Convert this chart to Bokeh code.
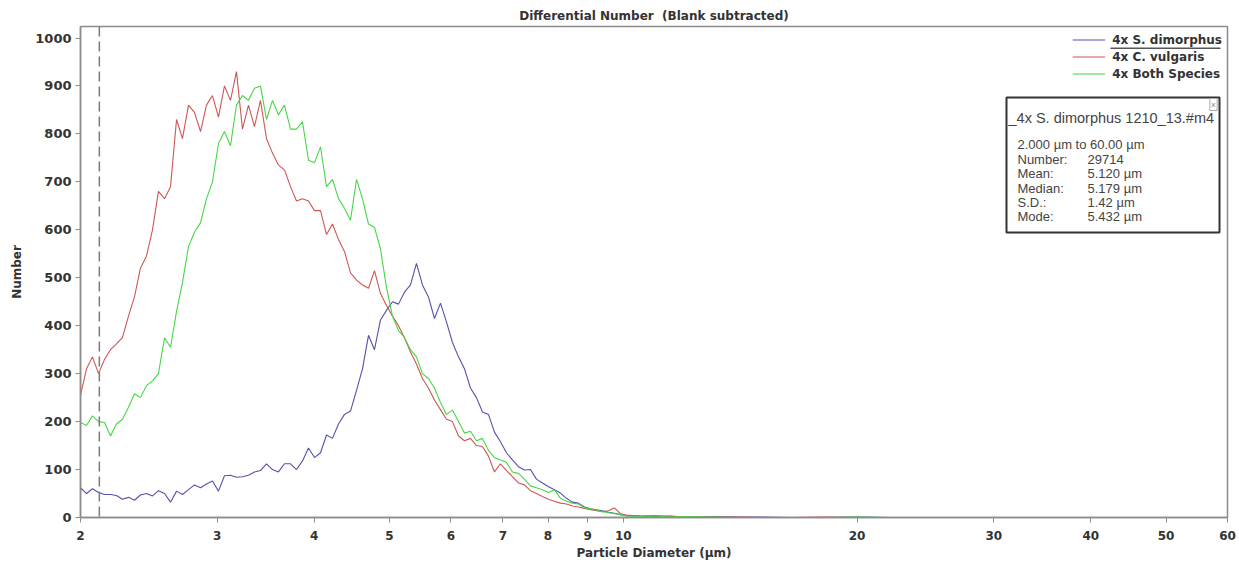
from bokeh.plotting import figure
from bokeh.models import Range1d, FixedTicker, Span, Label, BoxAnnotation, Legend, LegendItem, BasicTickFormatter
from bokeh.embed import file_html
from bokeh.resources import INLINE

# ---------------- data ----------------
diameter = [
    2.000, 2.036, 2.072, 2.110, 2.148, 2.186, 2.225, 2.265, 2.306, 2.347,
    2.389, 2.432, 2.476, 2.520, 2.566, 2.612, 2.659, 2.706, 2.755, 2.804,
    2.855, 2.906, 2.958, 3.011, 3.065, 3.120, 3.176, 3.233, 3.291, 3.350,
    3.410, 3.472, 3.534, 3.597, 3.662, 3.728, 3.795, 3.863, 3.932, 4.003,
    4.075, 4.148, 4.222, 4.298, 4.375, 4.454, 4.534, 4.615, 4.698, 4.782,
    4.868, 4.955, 5.044, 5.135, 5.227, 5.321, 5.416, 5.513, 5.612, 5.713,
    5.816, 5.920, 6.026, 6.135, 6.245, 6.357, 6.471, 6.587, 6.705, 6.826,
    6.948, 7.073, 7.200, 7.329, 7.460, 7.594, 7.731, 7.869, 8.011, 8.155,
    8.301, 8.450, 8.602, 8.756, 8.913, 9.073, 9.236, 9.402, 9.570, 9.742,
    9.917, 10.095,
    10.5, 11.0, 11.5, 12.0, 13.0, 14.0, 15.0, 16.5, 18.0, 20.0,
    22.0, 25.0, 30.0, 40.0, 50.0, 60.0,
]

s_dimorphus = [
    62, 50, 60, 52, 48, 48, 46, 38, 42, 36,
    47, 50, 45, 56, 50, 32, 55, 48, 58, 68,
    62, 70, 76, 55, 87, 88, 84, 85, 88, 95,
    98, 112, 100, 95, 112, 112, 100, 118, 145, 125,
    135, 172, 165, 195, 215, 222, 265, 310, 380, 350,
    412, 432, 450, 445, 470, 485, 530, 485, 460, 415,
    447, 408, 365, 335, 310, 270, 250, 220, 215, 178,
    158, 135, 120, 106, 99, 100, 80, 72, 64, 58,
    51, 40, 32, 30, 22, 18, 16, 14, 11, 9,
    6, 4,
    3, 2, 3, 1, 2, 1, 1, 0, 0, 1,
    0, 0, 0, 0, 0, 0,
]

c_vulgaris = [
    255, 310, 335, 300, 330, 350, 362, 375, 420, 460,
    520, 545, 600, 680, 665, 690, 830, 790, 860, 845,
    805, 860, 880, 835, 900, 870, 930, 810, 860, 815,
    870, 790, 760, 735, 725, 690, 660, 665, 660, 640,
    640, 590, 612, 580, 555, 510, 495, 485, 478, 515,
    467, 442, 420, 400, 375, 345, 320, 290, 270, 245,
    225, 205, 200, 170, 160, 165, 150, 148, 128, 95,
    112, 98, 85, 72, 68, 56, 50, 44, 38, 34,
    30, 28, 24, 22, 19, 16, 14, 12, 14, 20,
    8, 5,
    3, 4, 2, 2, 1, 1, 0, 0, 1, 0,
    0, 0, 0, 0, 0, 0,
]

both_species = [
    198, 192, 212, 200, 198, 170, 195, 205, 230, 258,
    250, 275, 285, 300, 375, 355, 430, 490, 565, 595,
    615, 665, 700, 780, 805, 775, 860, 880, 870, 895,
    900, 830, 870, 840, 860, 810, 810, 825, 745, 740,
    773, 690, 705, 665, 645, 620, 705, 665, 612, 605,
    560, 480, 420, 390, 375, 350, 335, 300, 290, 270,
    240, 215, 224, 200, 176, 180, 160, 165, 140, 125,
    120, 115, 95, 92, 80, 66, 62, 58, 52, 58,
    40, 34, 30, 28, 20, 18, 15, 12, 10, 8,
    6, 3,
    2, 3, 1, 2, 1, 0, 0, 0, 0, 1,
    0, 0, 0, 0, 0, 0,
]

series_names = ["4x S. dimorphus", "4x C. vulgaris", "4x Both Species"]
series_colors = ["#5353ad", "#d05656", "#45d845"]

x_ticks = [2, 3, 4, 5, 6, 7, 8, 9, 10, 20, 30, 40, 50, 60]
y_ticks = [0, 100, 200, 300, 400, 500, 600, 700, 800, 900, 1000]
cutoff_diameter = 2.115

stats_title = "_4x S. dimorphus 1210_13.#m4"
stats_range = "2.000 \u00b5m to 60.00 \u00b5m"
stats_labels = ["Number:", "Mean:", "Median:", "S.D.:", "Mode:"]
stats_values = ["29714", "5.120 \u00b5m", "5.179 \u00b5m", "1.42 \u00b5m", "5.432 \u00b5m"]

# ---------------- figure ----------------
BOLD = "DejaVu Sans"
p = figure(width=1239, height=563, x_axis_type="log",
           x_range=Range1d(2, 60), y_range=Range1d(0, 1024),
           output_backend="svg", toolbar_location=None,
           min_border_left=80, min_border_right=12,
           min_border_top=26, min_border_bottom=46,
           background_fill_color="white", border_fill_color="white")

p.title.text = "Differential Number\u00a0 (Blank subtracted)"
p.title.align = "center"
p.title.text_font = BOLD
p.title.text_font_style = "bold"
p.title.text_font_size = "12px"
p.title.text_color = "#333333"
p.title.standoff = 7

p.grid.visible = False
p.outline_line_color = "#8c8c8c"
p.outline_line_width = 1.5

for ax in (p.xaxis[0], p.yaxis[0]):
    ax.axis_line_color = "#8c8c8c"
    ax.axis_line_width = 1.5
    ax.major_tick_line_color = "#8c8c8c"
    ax.major_tick_out = 5
    ax.major_tick_in = 0
    ax.minor_tick_line_color = None
    ax.major_label_text_font = BOLD
    ax.major_label_text_font_style = "bold"
    ax.major_label_text_color = "#333333"
    ax.axis_label_text_font = BOLD
    ax.axis_label_text_font_style = "bold"
    ax.axis_label_text_font_size = "12px"
    ax.axis_label_text_color = "#333333"

p.xaxis.ticker = FixedTicker(ticks=x_ticks)
p.xaxis.formatter = BasicTickFormatter()
p.xaxis.major_label_text_font_size = "12px"
p.xaxis.major_label_standoff = 8
p.xaxis.axis_label = "Particle Diameter (\u00b5m)"
p.xaxis.axis_label_standoff = 3

p.yaxis.ticker = FixedTicker(ticks=y_ticks)
p.yaxis.major_label_text_font_size = "13px"
p.yaxis.major_label_standoff = 4
p.yaxis.axis_label = "Number"
p.yaxis.axis_label_standoff = 8

# cutoff line
p.add_layout(Span(location=cutoff_diameter, dimension="height",
                  line_color="#7a7a7a", line_width=1.5, line_dash="10 5"))

renderers = []
for ys, c in zip([s_dimorphus, c_vulgaris, both_species], series_colors):
    r = p.line(diameter, ys, line_color=c, line_width=1.1)
    renderers.append(r)

legend = Legend(items=[LegendItem(label=n, renderers=[r]) for n, r in zip(series_names, renderers)],
                location="top_right", border_line_color=None, background_fill_alpha=0,
                label_text_font=BOLD, label_text_font_style="bold", label_text_font_size="12px",
                label_text_color="#333333", glyph_width=33, glyph_height=17, label_height=17,
                label_standoff=7, spacing=0, padding=0, margin=5)
p.add_layout(legend)

# underline of the selected legend entry
p.add_layout(BoxAnnotation(left=1030, right=1140, bottom=468.5, top=470,
                           left_units="screen", right_units="screen",
                           bottom_units="screen", top_units="screen",
                           fill_color="#555555", fill_alpha=1, line_color=None))

# statistics box (screen units relative to the plot frame)
p.add_layout(BoxAnnotation(left=926, right=1139, bottom=285, top=420,
                           left_units="screen", right_units="screen",
                           bottom_units="screen", top_units="screen",
                           fill_color="white", fill_alpha=1,
                           line_color="#333333", line_alpha=1, line_width=2))

TXT = "Liberation Sans"
p.add_layout(Label(x=928, y=400, x_units="screen", y_units="screen", text=stats_title,
                   text_font=TXT, text_font_size="14.5px", text_color="#444444",
                   text_baseline="middle", text_align="left"))
p.add_layout(Label(x=937, y=373, x_units="screen", y_units="screen", text=stats_range,
                   text_font=TXT, text_font_size="13px", text_color="#444444",
                   text_baseline="middle", text_align="left"))
row_y = [358, 344, 329, 315, 301]
for lab, val, yy in zip(stats_labels, stats_values, row_y):
    p.add_layout(Label(x=937, y=yy, x_units="screen", y_units="screen", text=lab,
                       text_font=TXT, text_font_size="13px", text_color="#444444",
                       text_baseline="middle", text_align="left"))
    p.add_layout(Label(x=1007, y=yy, x_units="screen", y_units="screen", text=val,
                       text_font=TXT, text_font_size="13px", text_color="#444444",
                       text_baseline="middle", text_align="left"))

p.add_layout(Label(x=1133, y=413, x_units="screen", y_units="screen", text="\u00d7",
                   text_font=TXT, text_font_size="9px", text_color="#888888",
                   text_baseline="middle", text_align="center",
                   border_line_color="#aaaaaa", border_line_width=1,
                   background_fill_color="white", padding=1))

open("out.html", "w").write(file_html(p, INLINE))
